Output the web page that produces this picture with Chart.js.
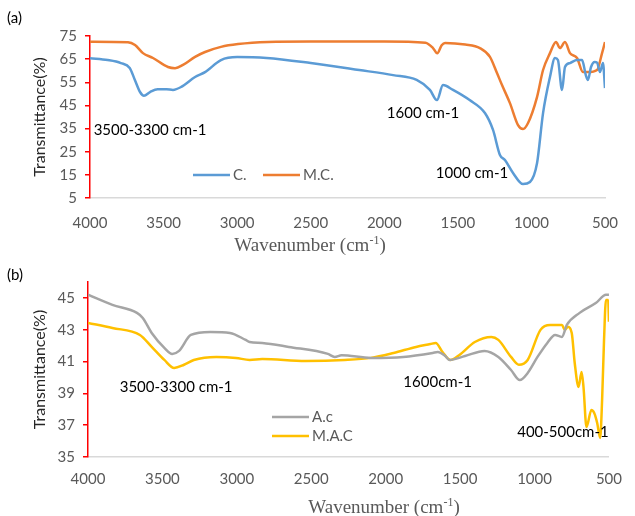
<!DOCTYPE html>
<html>
<head>
<meta charset="utf-8">
<script src="https://cdn.jsdelivr.net/npm/chart.js@4.4.1/dist/chart.umd.min.js"></script>
<style>
  body { margin: 0; background: #fff; }
  canvas { position: absolute; left: 0; }
  #chartA { top: 0; }
  #chartB { top: 256px; }
</style>
</head>
<body>
<canvas id="chartA" width="635" height="256"></canvas>
<canvas id="chartB" width="635" height="260"></canvas>
<script>
// ---- panel (a) data ----
const wnC = [4000, 3880, 3790, 3730, 3695, 3660, 3633, 3592, 3540, 3480, 3436, 3380, 3286, 3218, 3110, 3000, 2800, 2500, 2170, 1940, 1780, 1690, 1642, 1601, 1533, 1420, 1316, 1261, 1214, 1180, 1125, 1057, 1010, 962, 921, 874, 840, 820, 792, 772, 738, 690, 656, 630, 616, 595, 570, 554, 534, 514, 500];
const valC = [65.4, 64.6, 63.3, 61.2, 56, 50.8, 49.2, 50.8, 52, 52, 51.7, 53, 57.3, 59.4, 64.6, 65.9, 65.5, 63.3, 60.3, 58.1, 56, 51.7, 47.3, 53.8, 51.7, 47.3, 41.7, 34.4, 23.6, 21.4, 15.8, 11, 11.9, 20, 41.7, 57.3, 65.5, 64.6, 51.7, 61.6, 63.3, 64.6, 64.6, 58, 56, 61.6, 63.8, 63.5, 59.4, 63.3, 52.5];
const wnMC = [4000, 3742, 3694, 3640, 3572, 3470, 3422, 3368, 3286, 3218, 3110, 2994, 2790, 2500, 2000, 1720, 1669, 1640, 1610, 1587, 1450, 1350, 1282, 1234, 1200, 1146, 1091, 1057, 1023, 962, 921, 874, 833, 806, 772, 738, 690, 650, 616, 554, 520, 500];
const valMC = [72.5, 72.3, 71.1, 67.6, 65.5, 61.6, 61.1, 62.5, 66, 68.1, 70.3, 71.5, 72.4, 72.6, 72.6, 72.1, 69.8, 67.5, 71, 72, 71.3, 69.8, 66, 59, 53.8, 46, 36.5, 34.8, 37.4, 48.6, 60.3, 67.6, 72.4, 69.8, 72.4, 67.6, 65.5, 59.4, 59.4, 60.3, 67.6, 72.4];
const yTicksA = [5, 15, 25, 35, 45, 55, 65, 75];

// ---- panel (b) data ----
const wnAC = [4000, 3836, 3671, 3632, 3572, 3487, 3434, 3388, 3309, 3178, 3046, 2941, 2914, 2829, 2651, 2388, 2342, 2296, 2099, 1882, 1684, 1650, 1600, 1572, 1467, 1336, 1243, 1158, 1099, 1046, 980, 914, 862, 816, 783, 697, 586, 520, 500];
const valAC = [45.2, 44.56, 44.06, 43.74, 42.8, 41.86, 41.48, 41.67, 42.67, 42.86, 42.8, 42.36, 42.23, 42.17, 41.92, 41.48, 41.29, 41.4, 41.23, 41.29, 41.54, 41.6, 41.35, 41.1, 41.35, 41.67, 41.29, 40.47, 39.84, 40.28, 41.29, 42.17, 42.67, 42.55, 43.3, 44.06, 44.69, 45.2, 45.2];
const wnMAC = [4000, 3836, 3651, 3572, 3487, 3421, 3355, 3289, 3138, 3006, 2914, 2829, 2539, 2276, 2099, 1947, 1796, 1700, 1664, 1618, 1566, 1507, 1401, 1290, 1243, 1158, 1105, 1046, 960, 895, 816, 796, 776, 750, 730, 704, 684, 671, 651, 618, 599, 579, 559, 546, 533, 520, 505, 500];
const valMAC = [43.43, 43.11, 42.67, 41.92, 41.1, 40.6, 40.8, 41.1, 41.29, 41.23, 41.1, 41.16, 41.04, 41.1, 41.23, 41.54, 41.92, 42.1, 42.17, 41.6, 41.1, 41.4, 42.23, 42.55, 42.36, 41.29, 40.8, 41.1, 42.99, 43.3, 43.3, 42.99, 43.18, 42.8, 40.91, 39.4, 40.35, 39.4, 36.89, 37.96, 37.77, 37.14, 36.2, 38.58, 42.36, 44.87, 44.87, 43.5];
const yTicksB = [35, 37, 39, 41, 43, 45];

const xTicks = [4000, 3500, 3000, 2500, 2000, 1500, 1000, 500];

// annotations [text, wavenumber, transmittance]
const notesA = [["3500-3300 cm-1", 3592, 34.4], ["1600 cm-1", 1737, 41.7], ["1000 cm-1", 1404, 15.8]];
const notesB = [["3500-3300 cm-1", 3408, 39.4], ["1600cm-1", 1651, 39.72], ["400-500cm-1", 809, 36.57]];

const FONT = "Lato";
const toPts = (xs, ys) => xs.map((x, i) => ({ x: x, y: ys[i] }));

// draws panel tag, x title, legend and the band notes
const notesPlugin = {
    id: "notes",
    afterDraw(chart, args, opts) {
        const ctx = chart.ctx;
        const xs = chart.scales.x, ys = chart.scales.y;
        ctx.save();
        ctx.textBaseline = "middle";

        ctx.fillStyle = "#000";
        ctx.font = "15px " + FONT;
        ctx.textAlign = "center";
        opts.notes.forEach(n => ctx.fillText(n[0], xs.getPixelForValue(n[1]), ys.getPixelForValue(n[2])));

        ctx.textAlign = "left";
        ctx.font = "15px " + FONT;
        ctx.fillText(opts.tag, 7, opts.tagY);

        // x title with superscript
        ctx.fillStyle = "#595959";
        const main = "Wavenumber (cm", sup = "-1", end = ")";
        ctx.font = '19px "Liberation Serif"';
        const w1 = ctx.measureText(main).width, w3 = ctx.measureText(end).width;
        ctx.font = '12px "Liberation Serif"';
        const w2 = ctx.measureText(sup).width;
        let tx = opts.titleX - (w1 + w2 + w3) / 2;
        ctx.font = '19px "Liberation Serif"';
        ctx.fillText(main, tx, opts.titleY);
        ctx.font = '12px "Liberation Serif"';
        ctx.fillText(sup, tx + w1, opts.titleY - 5);
        ctx.font = '19px "Liberation Serif"';
        ctx.fillText(end, tx + w1 + w2, opts.titleY);

        // legend
        chart.data.datasets.forEach((ds, i) => {
            const p = opts.legend[i];
            ctx.strokeStyle = ds.borderColor;
            ctx.lineWidth = 2.5;
            ctx.beginPath();
            ctx.moveTo(p[0], p[1]);
            ctx.lineTo(p[0] + 37, p[1]);
            ctx.stroke();
            ctx.fillStyle = "#595959";
            ctx.font = "15px " + FONT;
            ctx.fillText(ds.label, p[0] + 40, p[1]);
        });
        ctx.restore();
    }
};

function makeChart(id, sets, cfg) {
    return new Chart(document.getElementById(id), {
        type: "line",
        data: {
            datasets: sets.map(s => ({
                label: s.label,
                data: s.data,
                borderColor: s.color,
                borderWidth: 2.5,
                pointRadius: 0,
                cubicInterpolationMode: "monotone",
                fill: false
            }))
        },
        options: {
            responsive: false,
            animation: false,
            layout: { padding: { top: cfg.top, right: cfg.right, left: 0, bottom: 0 } },
            plugins: {
                legend: { display: false },
                tooltip: { enabled: false },
                notes: cfg.notes
            },
            scales: {
                x: {
                    type: "linear",
                    reverse: true,
                    min: 500,
                    max: 4000,
                    afterBuildTicks(s) { s.ticks = xTicks.map(v => ({ value: v })); },
                    ticks: { color: "#595959", font: { family: FONT, size: 15 }, padding: cfg.xpad, maxRotation: 0, callback: v => String(v) },
                    grid: { display: false, drawTicks: false },
                    border: { color: "#D9D9D9", width: 1.5 },
                    afterFit(s) { s.height = cfg.xh; }
                },
                y: {
                    min: cfg.ymin,
                    max: cfg.ymax,
                    afterBuildTicks(s) { s.ticks = cfg.yticks.map(v => ({ value: v })); },
                    ticks: { color: "#595959", font: { family: FONT, size: 15 }, padding: 8, callback: v => String(v) },
                    grid: { drawOnChartArea: false, color: "#FF0000", tickLength: 5, lineWidth: 1.5 },
                    border: { color: "#FF0000", width: 1.5 },
                    title: { display: true, text: "Transmittance(%)", color: "#262626", font: { family: FONT, size: 16 }, padding: { top: 30, bottom: 0 } },
                    afterFit(s) { s.width = cfg.yw; }
                }
            }
        },
        plugins: [notesPlugin]
    });
}

makeChart("chartA", [
    { label: "C.", data: toPts(wnC, valC), color: "#5B9BD5" },
    { label: "M.C.", data: toPts(wnMC, valMC), color: "#ED7D31" }
], {
    top: 36, right: 30, xh: 58, yw: 90, ymin: 5, ymax: 75, yticks: yTicksA, xpad: 16,
    notes: { notes: notesA, tag: "(a)", tagY: 18, titleX: 310, titleY: 246, legend: [[193, 175], [263, 175]] }
});

makeChart("chartB", [
    { label: "A.c", data: toPts(wnAC, valAC), color: "#A5A5A5" },
    { label: "M.A.C", data: toPts(wnMAC, valMAC), color: "#FFC000" }
], {
    top: 26, right: 15, xh: 59, yw: 88, ymin: 35, ymax: 46, yticks: yTicksB, xpad: 13,
    notes: { notes: notesB, tag: "(b)", tagY: 19, titleX: 384, titleY: 252, legend: [[272, 161], [272, 180]] }
});
</script>
</body>
</html>
